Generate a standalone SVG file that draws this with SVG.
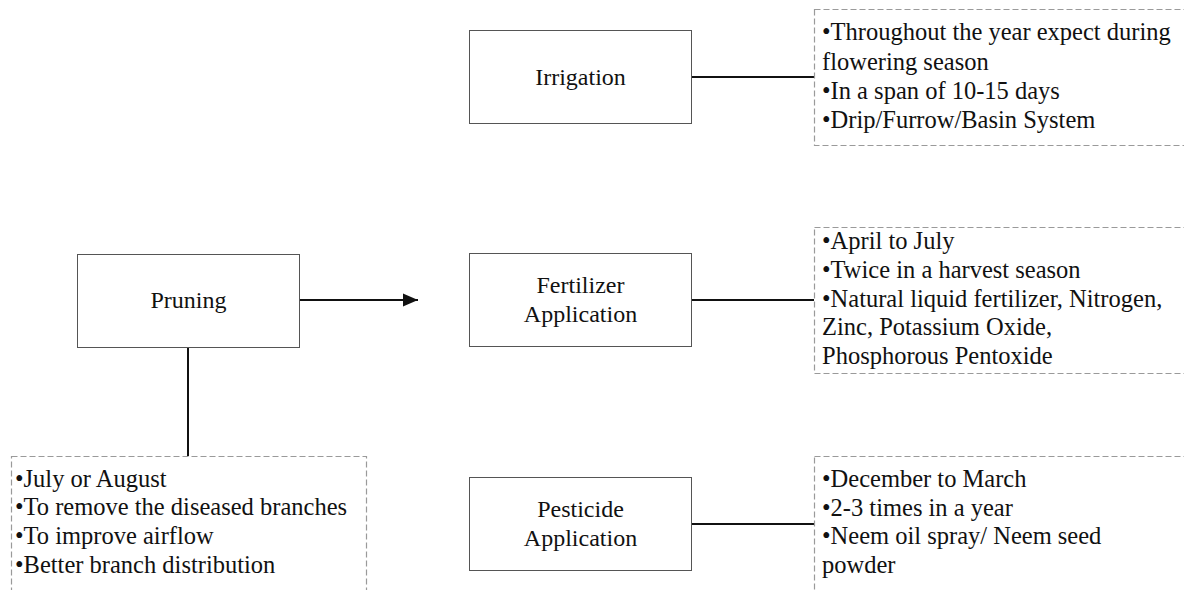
<svg xmlns="http://www.w3.org/2000/svg" width="1184" height="590" viewBox="0 0 1184 590">
  <style>
    .box { fill: #ffffff; stroke: #555555; stroke-width: 1; }
    .note { fill: #ffffff; stroke: #9a9a9a; stroke-width: 1.2; stroke-dasharray: 6 3; }
    text { font-family: 'Liberation Serif', 'DejaVu Serif', serif; fill: #111111; }
    .label { font-size: 24px; text-anchor: middle; }
    .txt { font-size: 24.5px; }
    .link { stroke: #111111; stroke-width: 2; fill: none; }
  </style>
  <defs>
    <marker id="arrowHead" markerWidth="16" markerHeight="14" refX="15" refY="7" orient="auto" markerUnits="userSpaceOnUse">
      <path d="M0,0.5 L15,7 L0,13.5 Z" fill="#111111"/>
    </marker>
  </defs>

  <rect width="1184" height="590" fill="#ffffff"/>

  <!-- connectors -->
  <g id="connectors">
    <line class="link" x1="300" y1="300" x2="418" y2="300" marker-end="url(#arrowHead)"/>
    <line class="link" x1="188" y1="347" x2="188" y2="456"/>
    <line class="link" x1="692" y1="77" x2="814" y2="77"/>
    <line class="link" x1="692" y1="300" x2="814" y2="300"/>
    <line class="link" x1="692" y1="524" x2="814" y2="524"/>
  </g>

  <!-- process boxes -->
  <g id="pruning">
    <rect class="box" x="77.5" y="254.5" width="222" height="93"/>
    <text class="label" x="188.5" y="308">Pruning</text>
  </g>
  <g id="irrigation">
    <rect class="box" x="469.5" y="30.5" width="222" height="93"/>
    <text class="label" x="580.5" y="85">Irrigation</text>
  </g>
  <g id="fertilizer">
    <rect class="box" x="469.5" y="253.5" width="222" height="93"/>
    <text class="label" x="580.5" y="293">Fertilizer</text>
    <text class="label" x="580.5" y="322">Application</text>
  </g>
  <g id="pesticide">
    <rect class="box" x="469.5" y="477.5" width="222" height="93"/>
    <text class="label" x="580.5" y="517">Pesticide</text>
    <text class="label" x="580.5" y="546">Application</text>
  </g>

  <!-- detail notes -->
  <g id="irrigation-notes">
    <rect class="note" x="814.5" y="9.5" width="380" height="136"/>
    <text class="txt" x="822" y="40">•Throughout the year expect during</text>
    <text class="txt" x="822" y="70">flowering season</text>
    <text class="txt" x="822" y="99">•In a span of 10-15 days</text>
    <text class="txt" x="822" y="128">•Drip/Furrow/Basin System</text>
  </g>
  <g id="fertilizer-notes">
    <rect class="note" x="814.5" y="227.5" width="380" height="146"/>
    <text class="txt" x="822" y="249">•April to July</text>
    <text class="txt" x="822" y="278">•Twice in a harvest season</text>
    <text class="txt" x="822" y="307">•Natural liquid fertilizer, Nitrogen,</text>
    <text class="txt" x="822" y="335">Zinc, Potassium Oxide,</text>
    <text class="txt" x="822" y="364">Phosphorous Pentoxide</text>
  </g>
  <g id="pesticide-notes">
    <rect class="note" x="814.5" y="456.5" width="380" height="150"/>
    <text class="txt" x="822" y="487">•December to March</text>
    <text class="txt" x="822" y="516">•2-3 times in a year</text>
    <text class="txt" x="822" y="544">•Neem oil spray/ Neem seed</text>
    <text class="txt" x="822" y="573">powder</text>
  </g>
  <g id="pruning-notes">
    <rect class="note" x="11.5" y="456.5" width="355" height="150"/>
    <text class="txt" x="15" y="487">•July or August</text>
    <text class="txt" x="15" y="515">•To remove the diseased branches</text>
    <text class="txt" x="15" y="544">•To improve airflow</text>
    <text class="txt" x="15" y="573">•Better branch distribution</text>
  </g>
</svg>
